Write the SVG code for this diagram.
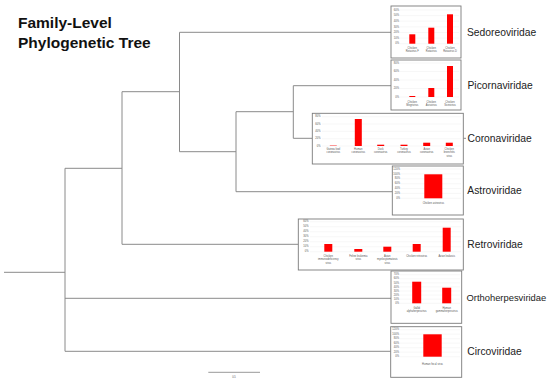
<svg xmlns="http://www.w3.org/2000/svg" width="550" height="382" viewBox="0 0 550 382">
<style>
.br{stroke:#8a8a8a;stroke-width:1;fill:none}
.box{fill:#fff;stroke:#7a7a7a;stroke-width:0.9}
.grid{stroke:#e4e4e4;stroke-width:0.3}
.bar{fill:#f00}
.tk{font-family:"Liberation Sans",Arial,sans-serif;font-size:2.6px;fill:#555;text-anchor:end;dominant-baseline:middle}
.cat{font-family:"Liberation Sans",Arial,sans-serif;font-size:2.6px;fill:#555;text-anchor:middle}
.lab{font-family:"Liberation Sans",Arial,sans-serif;font-size:10.3px;fill:#222;dominant-baseline:middle}
.title{font-family:"Liberation Sans",Arial,sans-serif;font-size:15.5px;font-weight:bold;fill:#111}
</style>
<rect width="550" height="382" fill="#fff"/>
<g id="title">
<text class="title" x="18" y="27.5">Family-Level</text>
<text class="title" x="18" y="47.5">Phylogenetic Tree</text>
</g>
<g id="connectors">
<path class="br" d="M4,272.3H65M65,168.3V351.3M65,168.3H122M122,91.7V244.3M122,91.7H179.5M179.5,32.3V151.7M179.5,32.3H391M179.5,151.7H236M236,111.7V191.7M236,111.7H293.3M293.3,85.7V138.3M293.3,85.7H391M293.3,138.3H312.3M463.3,138.3H466M236,191.7H392.3M122,244.3H298.3M65,298.3H391M65,351.3H390.7"/>
</g>
<g id="sedoreoviridae">
<rect class="box" x="391" y="6" width="70" height="52"/>
<g class="grid"><path d="M400,10H459M400,15.6H459M400,21.2H459M400,26.9H459M400,32.5H459M400,38.1H459M400,43.7H459"/></g>
<text class="tk" x="399" y="10">60%</text><text class="tk" x="399" y="15.6">50%</text><text class="tk" x="399" y="21.2">40%</text><text class="tk" x="399" y="26.9">30%</text><text class="tk" x="399" y="32.5">20%</text><text class="tk" x="399" y="38.1">10%</text><text class="tk" x="399" y="43.7">0%</text>
<rect class="bar" x="409.3" y="34.3" width="6" height="9.4"/>
<rect class="bar" x="428.3" y="27.7" width="6" height="16"/>
<rect class="bar" x="447" y="14.3" width="6" height="29.4"/>
<text class="cat" x="412.3" y="49">Chicken</text><text class="cat" x="412.3" y="52">Rotavirus F</text>
<text class="cat" x="431.3" y="49">Chicken</text><text class="cat" x="431.3" y="52">Rotavirus</text>
<text class="cat" x="450" y="49">Chicken</text><text class="cat" x="450" y="52">Rotavirus D</text>
<text class="lab" x="467" y="33">Sedoreoviridae</text>
</g>
<g id="picornaviridae">
<rect class="box" x="391" y="60" width="70" height="50"/>
<g class="grid"><path d="M400,63H459M400,71.5H459M400,80H459M400,88.5H459M400,97H459"/></g>
<text class="tk" x="399" y="63">80%</text><text class="tk" x="399" y="71.5">60%</text><text class="tk" x="399" y="80">40%</text><text class="tk" x="399" y="88.5">20%</text><text class="tk" x="399" y="97">0%</text>
<rect class="bar" x="409.3" y="96" width="6" height="1"/>
<rect class="bar" x="428.3" y="88" width="6" height="9"/>
<rect class="bar" x="447" y="66" width="6" height="31"/>
<text class="cat" x="412.3" y="102.5">Chicken</text><text class="cat" x="412.3" y="105.5">Megrivirus</text>
<text class="cat" x="431.3" y="102.5">Chicken</text><text class="cat" x="431.3" y="105.5">Avisivirus</text>
<text class="cat" x="450" y="102.5">Chicken</text><text class="cat" x="450" y="105.5">Sicinivirus</text>
<text class="lab" x="467.5" y="86.5">Picornaviridae</text>
</g>
<g id="coronaviridae">
<rect class="box" x="312.3" y="113.3" width="151" height="50.7"/>
<g class="grid"><path d="M322,116.7H461M322,124H461M322,131.3H461M322,138.7H461M322,146H461"/></g>
<text class="tk" x="320.5" y="116.7">80%</text><text class="tk" x="320.5" y="124">60%</text><text class="tk" x="320.5" y="131.3">40%</text><text class="tk" x="320.5" y="138.7">20%</text><text class="tk" x="320.5" y="146">0%</text>
<rect class="bar" x="329.8" y="145.6" width="7" height="0.4"/>
<rect class="bar" x="354.8" y="119" width="7" height="27"/>
<rect class="bar" x="377.2" y="144.7" width="7" height="1.3"/>
<rect class="bar" x="400.5" y="144.7" width="7" height="1.3"/>
<rect class="bar" x="423.2" y="142.7" width="7" height="3.3"/>
<rect class="bar" x="445.8" y="142.7" width="7" height="3.3"/>
<text class="cat" x="333.3" y="150">Guinea fowl</text><text class="cat" x="333.3" y="153.3">coronavirus</text>
<text class="cat" x="358.3" y="150">Human</text><text class="cat" x="358.3" y="153.3">coronavirus</text>
<text class="cat" x="380.7" y="150">Duck</text><text class="cat" x="380.7" y="153.3">coronavirus</text>
<text class="cat" x="404" y="150">Turkey</text><text class="cat" x="404" y="153.3">coronavirus</text>
<text class="cat" x="426.7" y="150">Avian</text><text class="cat" x="426.7" y="153.3">coronavirus</text>
<text class="cat" x="449.3" y="150">Chicken</text><text class="cat" x="449.3" y="153.3">bronchitis</text><text class="cat" x="449.3" y="156.6">virus</text>
<text class="lab" x="467.5" y="139">Coronaviridae</text>
</g>
<g id="astroviridae">
<rect class="box" x="392.3" y="166" width="71" height="49"/>
<g class="grid"><path d="M401,169H461M401,173.9H461M401,178.8H461M401,183.7H461M401,188.5H461M401,193.4H461M401,198.3H461"/></g>
<text class="tk" x="400" y="169">120%</text><text class="tk" x="400" y="173.9">100%</text><text class="tk" x="400" y="178.8">80%</text><text class="tk" x="400" y="183.7">60%</text><text class="tk" x="400" y="188.5">40%</text><text class="tk" x="400" y="193.4">20%</text><text class="tk" x="400" y="198.3">0%</text>
<rect class="bar" x="424.3" y="174.3" width="18" height="24"/>
<text class="cat" x="433.3" y="204">Chicken astrovirus</text>
<text class="lab" x="467.3" y="191.5">Astroviridae</text>
</g>
<g id="retroviridae">
<rect class="box" x="298.3" y="219" width="165" height="51"/>
<g class="grid"><path d="M310,221.7H461M310,226.7H461M310,231.7H461M310,236.7H461M310,241.7H461M310,246.7H461M310,251.7H461"/></g>
<text class="tk" x="308.5" y="221.7">60%</text><text class="tk" x="308.5" y="226.7">50%</text><text class="tk" x="308.5" y="231.7">40%</text><text class="tk" x="308.5" y="236.7">30%</text><text class="tk" x="308.5" y="241.7">20%</text><text class="tk" x="308.5" y="246.7">10%</text><text class="tk" x="308.5" y="251.7">0%</text>
<rect class="bar" x="324.3" y="244" width="8" height="7.7"/>
<rect class="bar" x="354.3" y="249" width="8" height="2.7"/>
<rect class="bar" x="383.3" y="246.7" width="8" height="5"/>
<rect class="bar" x="412.7" y="244" width="8" height="7.7"/>
<rect class="bar" x="442.7" y="227.7" width="8" height="24"/>
<text class="cat" x="328.3" y="257">Chicken</text><text class="cat" x="328.3" y="260.3">immunodeficiency</text><text class="cat" x="328.3" y="263.6">virus</text>
<text class="cat" x="358.3" y="257">Feline leukemia</text><text class="cat" x="358.3" y="260.3">virus</text>
<text class="cat" x="387.3" y="257">Avian</text><text class="cat" x="387.3" y="260.3">myelocytomatosis</text><text class="cat" x="387.3" y="263.6">virus</text>
<text class="cat" x="416.7" y="257">Chicken retrovirus</text>
<text class="cat" x="446.7" y="257">Avian leukosis</text>
<text class="lab" x="467.3" y="245">Retroviridae</text>
</g>
<g id="orthoherpesviridae">
<rect class="box" x="391" y="271" width="70.7" height="52.3"/>
<g class="grid"><path d="M400,274.7H460M400,278.8H460M400,282.9H460M400,286.9H460M400,291H460M400,295.1H460M400,299.2H460M400,303.3H460"/></g>
<text class="tk" x="399" y="274.7">70%</text><text class="tk" x="399" y="278.8">60%</text><text class="tk" x="399" y="282.9">50%</text><text class="tk" x="399" y="286.9">40%</text><text class="tk" x="399" y="291">30%</text><text class="tk" x="399" y="295.1">20%</text><text class="tk" x="399" y="299.2">10%</text><text class="tk" x="399" y="303.3">0%</text>
<rect class="bar" x="412.2" y="281.7" width="9" height="21.6"/>
<rect class="bar" x="442.2" y="287.7" width="9" height="15.6"/>
<text class="cat" x="416.7" y="308.8">Gallid</text><text class="cat" x="416.7" y="311.8">alphaherpesvirus</text>
<text class="cat" x="446.7" y="308.8">Human</text><text class="cat" x="446.7" y="311.8">gammaherpesvirus</text>
<text class="lab" x="466.5" y="298.5" style="font-size:9.4px">Orthoherpesviridae</text>
</g>
<g id="circoviridae">
<rect class="box" x="390.7" y="326.7" width="71" height="50.6"/>
<g class="grid"><path d="M400,329.7H460M400,334.2H460M400,338.7H460M400,343.2H460M400,347.7H460M400,352.2H460M400,356.7H460"/></g>
<text class="tk" x="399" y="329.7">120%</text><text class="tk" x="399" y="334.2">100%</text><text class="tk" x="399" y="338.7">80%</text><text class="tk" x="399" y="343.2">60%</text><text class="tk" x="399" y="347.7">40%</text><text class="tk" x="399" y="352.2">20%</text><text class="tk" x="399" y="356.7">0%</text>
<rect class="bar" x="423.3" y="334.3" width="18.4" height="22.4"/>
<text class="cat" x="432.5" y="364.5">Human fecal virus</text>
<text class="lab" x="467.3" y="352">Circoviridae</text>
</g>
<g id="scale">
<path d="M208.3,372.3H260" stroke="#999" stroke-width="1"/>
<text class="cat" x="234" y="377.5">0.5</text>
</g>
</svg>
